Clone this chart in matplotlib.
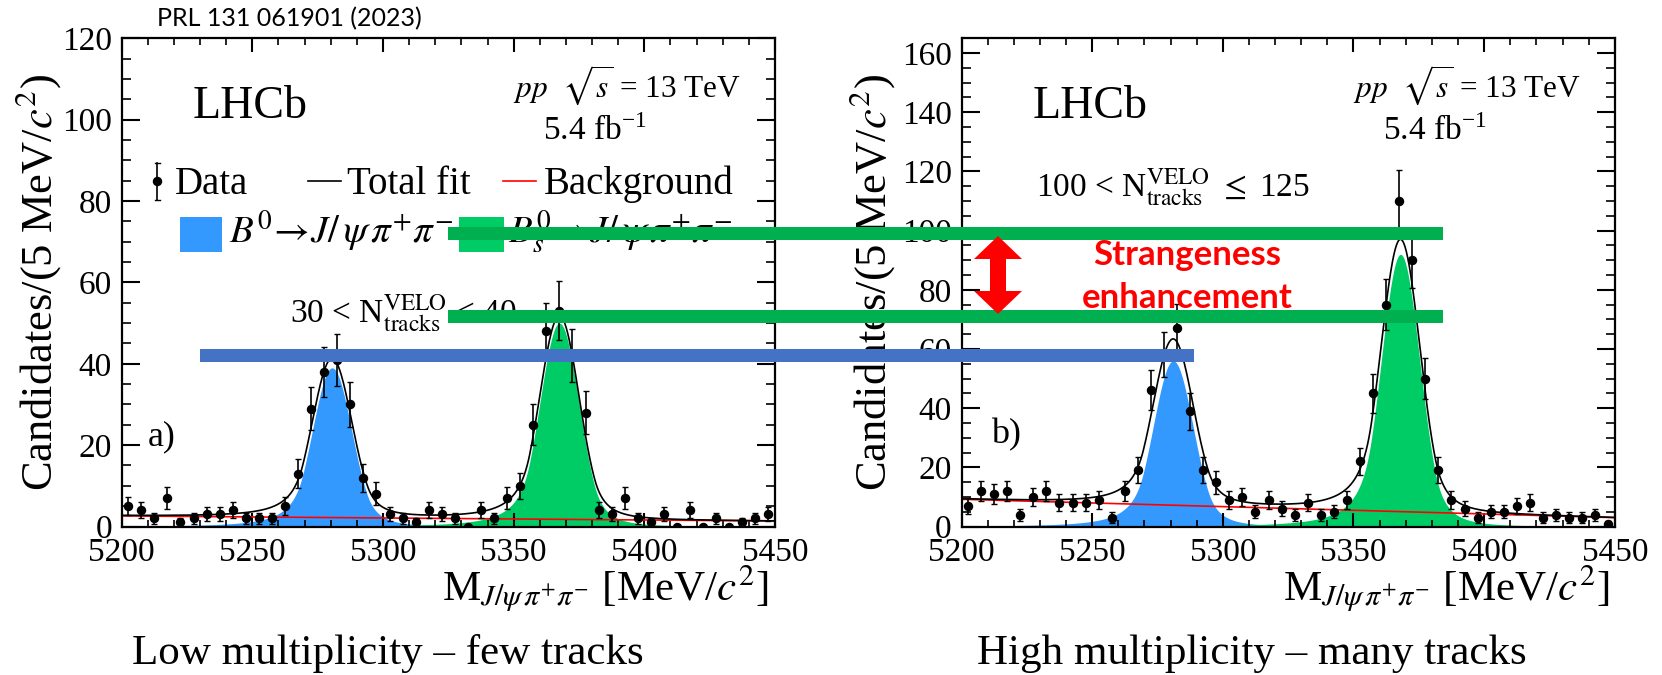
import numpy as np
import matplotlib
matplotlib.use("Agg")
import matplotlib.pyplot as plt
from matplotlib.patches import Rectangle, Polygon
from matplotlib.lines import Line2D
from matplotlib.ticker import MultipleLocator

# ---------------- data ----------------
bin_low, bin_high, bin_width = 5200, 5450, 5
left_counts = [5, 4, 2, 7, 1, 2, 3, 3, 4, 2,
               2, 2, 5, 13, 29, 38, 41, 30, 12, 8,
               3, 2, 1, 4, 3, 2, 0, 4, 2, 7,
               10, 25, 48, 53, 42, 28, 4, 3, 7, 2,
               1, 3, 0, 4, 0, 2, 0, 1, 2, 3]
right_counts = [7, 12, 11, 12, 4, 10, 12, 8, 8, 8,
                9, 3, 12, 19, 46, 58, 67, 39, 19, 15,
                9, 10, 5, 9, 6, 4, 8, 4, 5, 9,
                22, 45, 75, 110, 90, 50, 19, 9, 6, 3,
                5, 5, 7, 8, 3, 4, 3, 3, 4, 1]

# fit-model parameters
left_bkg = (2.6, 1.35)          # background level at 5200 and 5450
right_bkg = (9.2, 3.0)
left_b0 = dict(h=39, mu=5280.5, sigma=7.5)
left_bs = dict(h=50, mu=5367.5, sigma=7.5)
right_b0 = dict(h=56, mu=5281.0, sigma=7.6)
right_bs = dict(h=92, mu=5368.0, sigma=7.4)
tails = dict(aL=1.5, nL=2.5, aR=1.8, nR=3.0)

left_ylim, right_ylim = 120, 165
left_yticks = [0, 20, 40, 60, 80, 100, 120]
right_yticks = [0, 20, 40, 60, 80, 100, 120, 140, 160]
xticks = [5200, 5250, 5300, 5350, 5400, 5450]

# ---------------- style ----------------
W, H = 1662, 675
SERIF = ['Liberation Serif', 'DejaVu Serif']
plt.rcParams['font.family'] = SERIF
plt.rcParams['mathtext.fontset'] = 'stix'

BLUE_FILL = '#3399ff'
GREEN_FILL = '#00cc66'
BAR_GREEN = '#00b050'
BAR_BLUE = '#4472c4'


def fx(px):
    return px / W


def fy(py):
    return 1 - py / H


def dscb(x, h, mu, sigma, aL, nL, aR, nR):
    t = (x - mu) / sigma
    out = np.exp(-0.5 * t ** 2)
    AL = (nL / aL) ** nL * np.exp(-0.5 * aL ** 2)
    BL = nL / aL - aL
    AR = (nR / aR) ** nR * np.exp(-0.5 * aR ** 2)
    BR = nR / aR - aR
    ml = t < -aL
    mr = t > aR
    out[ml] = AL * (BL - t[ml]) ** (-nL)
    out[mr] = AR * (BR + t[mr]) ** (-nR)
    return h * out


fig = plt.figure(figsize=(W / 100, H / 100), dpi=100)

ax_w = (775 - 121.7) / W
ax_h = (526.5 - 38.3) / H
axL = fig.add_axes([fx(121.7), fy(526.5), ax_w, ax_h])
axR = fig.add_axes([fx(961.5), fy(526.5), ax_w, ax_h])

centers = np.arange(bin_low + bin_width / 2, bin_high, bin_width)
xs = np.linspace(bin_low, bin_high, 1000)

for ax, counts, bkg, b0, bs, ymax, yt in [
        (axL, left_counts, left_bkg, left_b0, left_bs, left_ylim, left_yticks),
        (axR, right_counts, right_bkg, right_b0, right_bs, right_ylim, right_yticks)]:
    counts = np.array(counts, dtype=float)
    bg = np.interp(xs, [bin_low, bin_high], bkg)
    c0 = dscb(xs, **b0, **tails)
    cs = dscb(xs, **bs, **tails)
    ax.fill_between(xs, 0, c0, color=BLUE_FILL, lw=0, zorder=1)
    ax.fill_between(xs, 0, cs, color=GREEN_FILL, lw=0, zorder=1)
    ax.plot(xs, bg, color='red', lw=1.2, zorder=2)
    ax.plot(xs, bg + c0 + cs, color='black', lw=1.2, zorder=3)
    ax.errorbar(centers, counts, yerr=np.sqrt(counts), fmt='o', color='black',
                ms=5.8, elinewidth=1.2, capsize=2, capthick=1.0, zorder=4)
    ax.set_xlim(bin_low, bin_high)
    ax.set_ylim(0, ymax)
    ax.set_xticks(xticks)
    ax.set_yticks(yt)
    ax.xaxis.set_minor_locator(MultipleLocator(10))
    ax.yaxis.set_minor_locator(MultipleLocator(5))
    ax.tick_params(axis='both', which='both', direction='in', top=True, right=True,
                   labelsize=24)
    ax.tick_params(axis='x', which='major', length=10, width=1.5, pad=8)
    ax.tick_params(axis='x', which='minor', length=5, width=1.2)
    ax.tick_params(axis='y', which='major', length=13, width=1.5, pad=7)
    ax.tick_params(axis='y', which='minor', length=6.5, width=1.2)
    for s in ax.spines.values():
        s.set_linewidth(1.6)

# ---------------- texts ----------------
def T(px, py, s, size, **kw):
    kw.setdefault('va', 'baseline')
    return fig.text(fx(px), fy(py), s, fontsize=size, **kw)


T(156.7, 26.7, "PRL 131 061901 (2023)", 18, family=['Lato', 'DejaVu Sans'])

for dx, lab, sel, selx, sely, labx, laby in [
        (0, "a)", r"30 < N$_{\rm tracks}^{\rm VELO}$ < 40", 290, 322, 148, 445),
        (840.3, "b)", r"100 < N$_{\rm tracks}^{\rm VELO}$ $\leq$ 125", 1036, 196, 991, 443)]:
    T(193 + dx - (1 if dx else 0), 118, "LHCb", 33)
    T(741 + dx, 97, r"$pp$  $\sqrt{s}$ = 13 TeV", 22.5, ha='right')
    T(543 + dx, 140, r"5.4 fb$^{\mathregular{-1}}$", 24)
    T(selx, sely, sel, 24)
    T(labx, laby, lab, 26)

# y labels
for px in (38, 872):
    fig.text(fx(px), fy(282), r"Candidates/(5 MeV/$c^{2}$)", fontsize=32,
             rotation=90, ha='center', va='center', rotation_mode='anchor')
# x labels
for px in (768, 1609):
    T(px, 600, r"M$_{J/\psi\,\pi^{+}\pi^{-}}$ [MeV/$c^{2}$]", 31, ha='right')

# bottom captions
T(132, 664, "Low multiplicity \u2013 few tracks", 31)
T(977, 664, "High multiplicity \u2013 many tracks", 31)

# ---------------- legend (left panel) ----------------
fig.add_artist(Line2D([fx(157), fx(157)], [fy(163), fy(200)], color='black', lw=1.2))
fig.add_artist(Line2D([fx(154.5), fx(159.5)], [fy(163), fy(163)], color='black', lw=1))
fig.add_artist(Line2D([fx(154.5), fx(159.5)], [fy(200), fy(200)], color='black', lw=1))
fig.add_artist(Line2D([fx(157)], [fy(181)], marker='o', ms=5.8, color='black'))
T(175, 194, "Data", 28)
fig.add_artist(Line2D([fx(308), fx(341)], [fy(181), fy(181)], color='black', lw=1.2))
T(347, 194, "Total fit", 28)
fig.add_artist(Line2D([fx(503), fx(536)], [fy(181), fy(181)], color='red', lw=1.2))
T(544, 194, "Background", 28)
fig.add_artist(Rectangle((fx(180), fy(252)), fx(42), 35 / H, color=BLUE_FILL, lw=0))
T(229, 243, r"$B^{0}\!\rightarrow\! J/\,\psi\,\pi^{+}\pi^{-}$", 28)
fig.add_artist(Rectangle((fx(459), fy(252)), fx(45), 35 / H, color=GREEN_FILL, lw=0))
T(508, 243, r"$B_{s}^{0}\!\rightarrow\! J/\,\psi\,\pi^{+}\pi^{-}$", 28)

# ---------------- overlay annotations ----------------
def bar(x0, x1, y0, y1, c):
    fig.add_artist(Rectangle((fx(x0), fy(y1)), (x1 - x0) / W, (y1 - y0) / H,
                             color=c, lw=0, zorder=10))


bar(448, 1443, 227, 240, BAR_GREEN)
bar(448, 1443, 310, 323, BAR_GREEN)
bar(200, 1194, 349, 362, BAR_BLUE)

cx, top, bot, hw, hl, sw = 998, 236, 314, 24, 23, 8
pts = [(cx, top), (cx + hw, top + hl), (cx + sw, top + hl), (cx + sw, bot - hl),
       (cx + hw, bot - hl), (cx, bot), (cx - hw, bot - hl), (cx - sw, bot - hl),
       (cx - sw, top + hl), (cx - hw, top + hl)]
fig.add_artist(Polygon([(fx(a), fy(b)) for a, b in pts], closed=True,
                       color='red', lw=0, zorder=11))

for txt, by in (("Strangeness", 265), ("enhancement", 308)):
    fig.text(fx(1187), fy(by), txt, fontsize=25, color='red', fontweight='bold',
             family=['Lato', 'DejaVu Sans'], ha='center', va='baseline', zorder=12)

fig.savefig("out.png", dpi=100)
